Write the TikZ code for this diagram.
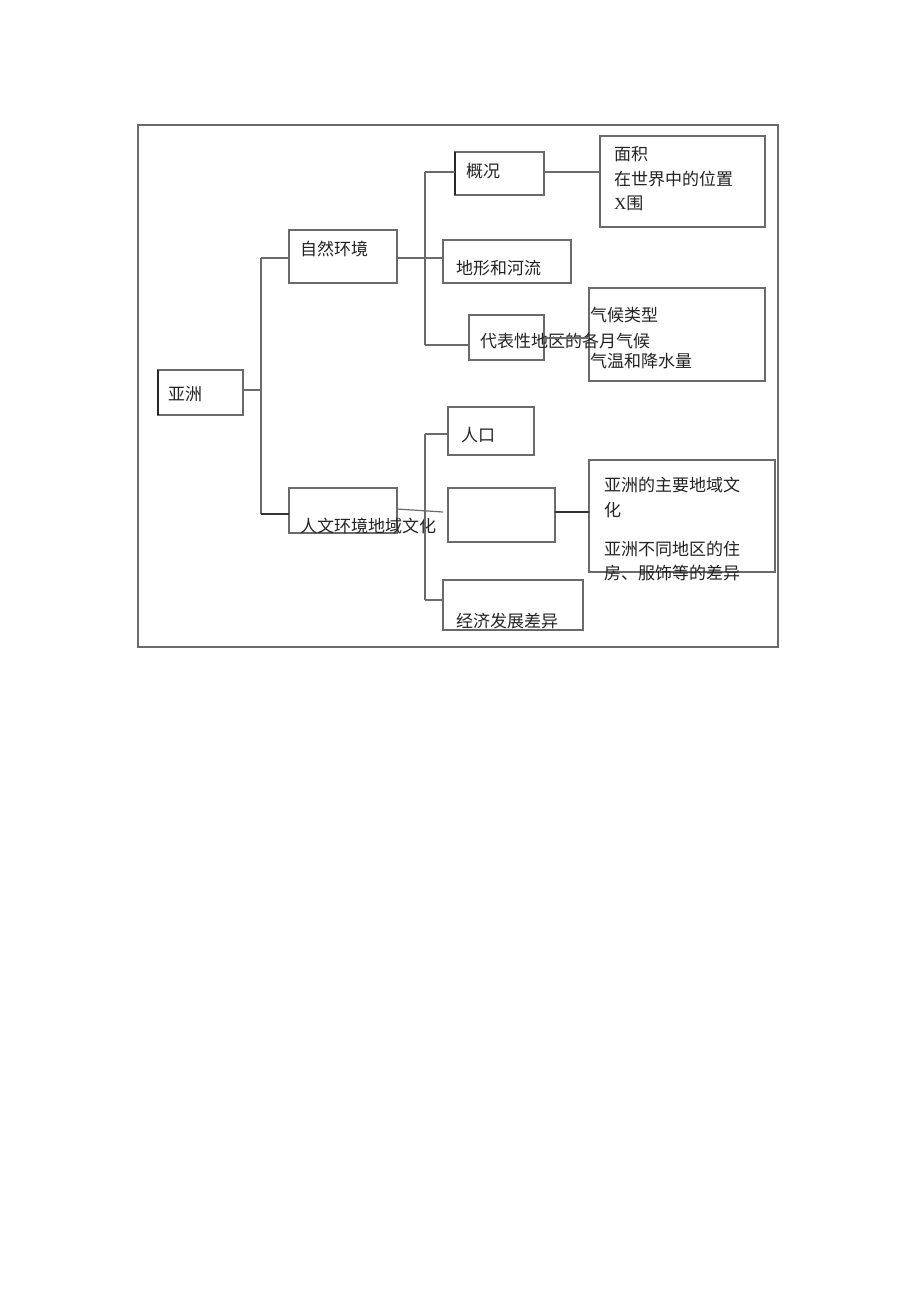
\documentclass[tikz,border=0pt]{standalone}
\usepackage{fontspec}
\newfontfamily\cjk{Noto Sans CJK SC}
\newfontfamily\serifx{Liberation Serif}
\definecolor{ln}{HTML}{6A6A6A}
\definecolor{tx}{HTML}{222222}
\begin{document}
\begin{tikzpicture}[x=1pt,y=-1pt,
  box/.style={draw=ln,line width=1.2pt,anchor=north west,inner sep=0pt,outer sep=0pt},
  lbl/.style={anchor=base west,inner sep=0pt,text=tx,font=\cjk\fontsize{17}{20}\selectfont},
  line/.style={draw=ln,line width=1.2pt},
  thick line/.style={draw=black!80,line width=2.4pt}]
\useasboundingbox (0,0) rectangle (920,1303);
\node[box,minimum width=640,minimum height=522] (frame) at (138,125) {};
% boxes
\node[box,minimum width=85,minimum height=45] (yz) at (158,370) {};
\node[box,minimum width=108,minimum height=53] (zr) at (289,230) {};
\node[box,minimum width=108,minimum height=45] (rw) at (289,488) {};
\node[box,minimum width=89,minimum height=43] (gk) at (455,152) {};
\node[box,minimum width=128,minimum height=43] (dx) at (443,240) {};
\node[box,minimum width=75,minimum height=45] (db) at (469,315) {};
\node[box,minimum width=165,minimum height=91] (mj) at (600,136) {};
\node[box,minimum width=176,minimum height=93] (qh) at (589,288) {};
\node[box,minimum width=86,minimum height=48] (rk) at (448,407) {};
\node[box,minimum width=107,minimum height=54] (em) at (448,488) {};
\node[box,minimum width=186,minimum height=112] (wh) at (589,460) {};
\node[box,minimum width=140,minimum height=50] (jj) at (443,580) {};
% thick left edges
\draw[draw=black!85,line width=2.6pt] (yz.north west) -- (yz.south west);
\draw[draw=black!85,line width=2.6pt] (gk.north west) -- (gk.south west);
% texts
\node[lbl] (t1) at (168,400) {亚洲};
\node[lbl] (t2) at (300,255) {自然环境};
\node[lbl] (t3) at (300,532) {人文环境地域文化};
\node[lbl] (t4) at (466,177) {概况};
\node[lbl] (t5) at (456,274) {地形和河流};
\node[lbl] (t6) at (480,347) {代表性地区的各月气候};
\node[lbl] (t7) at (614,160) {面积};
\node[lbl] (t8) at (614,185) {在世界中的位置};
\node[lbl] (t9) at (614,209) {{\serifx X}围};
\node[lbl] (t10) at (590,321) {气候类型};
\node[lbl] (t11) at (590,367) {气温和降水量};
\node[lbl] (t12) at (461,441) {人口};
\node[lbl] (t13) at (604,491) {亚洲的主要地域文};
\node[lbl] (t14) at (604,516) {化};
\node[lbl] (t15) at (604,555) {亚洲不同地区的住};
\node[lbl] (t16) at (604,579) {房、服饰等的差异};
\node[lbl] (t17) at (456,627) {经济发展差异};
% connectors level 1
\coordinate (a1) at (261,390);
\draw[line] (yz.east |- a1) -- (a1);
\coordinate (a1t) at (261,258);
\coordinate (a1b) at (261,514);
\draw[line] (a1t) -- (a1b);
\draw[line] (a1t) -- (zr.west |- a1t);
\draw[thick line] (a1b) -- (rw.west |- a1b);
% level 2 upper
\coordinate (b1) at (425,258);
\coordinate (b1t) at (425,172);
\coordinate (b1b) at (425,345);
\draw[line] (zr.east |- b1) -- (b1) -- (dx.west |- b1);
\draw[line] (b1t) -- (b1b);
\draw[line] (b1t) -- (gk.west |- b1t);
\draw[line] (b1b) -- (db.west |- b1b);
\draw[line] (gk.east |- b1t) -- (mj.west |- b1t);
\coordinate (c1) at (544,338);
\draw[line] (c1) -- (qh.west |- c1);
% level 2 lower
\coordinate (b2t) at (425,434);
\coordinate (b2b) at (425,600);
\draw[line] (b2t) -- (b2b);
\draw[line] (b2t) -- (rk.west |- b2t);
\draw[line] (b2b) -- (jj.west |- b2b);
\coordinate (s1) at (397,509);
\coordinate (s2) at (443,512);
\draw[line] (s1) -- (s2);
\coordinate (c2) at (555,512);
\draw[thick line] (c2) -- (wh.west |- c2);
\end{tikzpicture}
\end{document}
